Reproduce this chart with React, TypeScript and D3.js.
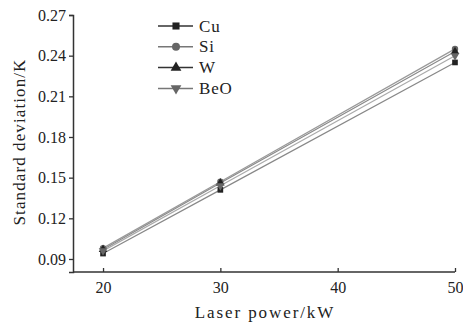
import React, { useRef, useEffect } from 'react';
import * as d3 from 'd3';

const powers = [20, 30, 50];
const seriesNames = ['Cu', 'Si', 'W', 'BeO'];
const cuValues = [0.094, 0.141, 0.235];
const siValues = [0.098, 0.147, 0.245];
const wValues = [0.097, 0.146, 0.243];
const beoValues = [0.096, 0.144, 0.240];
const xTicks = [20, 30, 40, 50];
const yTicks = [0.09, 0.12, 0.15, 0.18, 0.21, 0.24, 0.27];

const App = () => {
  const ref = useRef<SVGSVGElement>(null);

  useEffect(() => {
    const svg = d3.select(ref.current);
    svg.selectAll('*').remove();
    const font = '"Liberation Serif", "Times New Roman", serif';

    const x = d3.scaleLinear().domain([17.44, 50]).range([73, 455]);
    const y = d3.scaleLinear().domain([0.0804, 0.27]).range([272, 15]);

    const series = [
      { name: seriesNames[0], values: cuValues, color: '#222', line: '#888', symbol: d3.symbolSquare },
      { name: seriesNames[1], values: siValues, color: '#666', line: '#999', symbol: d3.symbolCircle },
      { name: seriesNames[2], values: wValues, color: '#222', line: '#8a8a8a', symbol: d3.symbolTriangle },
      { name: seriesNames[3], values: beoValues, color: '#666', line: '#aaa', symbol: d3.symbolTriangle },
    ];

    const line = d3.line<number>()
      .x((_, i) => x(powers[i]))
      .y(d => y(d));

    series.forEach(s => {
      svg.append('path')
        .attr('d', line(s.values))
        .attr('fill', 'none')
        .attr('stroke', s.line)
        .attr('stroke-width', 1.2);
    });

    series.forEach(s => {
      svg.append('g')
        .selectAll('path')
        .data(s.values)
        .join('path')
        .attr('d', d3.symbol().type(s.symbol).size(32)())
        .attr('transform', (d, i) => `translate(${x(powers[i])},${y(d)})${s.name === 'BeO' ? ' rotate(180)' : ''}`)
        .attr('fill', s.color);
    });

    const yAxis = svg.append('g')
      .attr('transform', 'translate(73,0)')
      .call(d3.axisLeft(y).tickValues(yTicks).tickFormat(d3.format('.2f')).tickSize(4));
    const xAxis = svg.append('g')
      .attr('transform', 'translate(0,272)')
      .call(d3.axisBottom(x).tickValues(xTicks).tickSize(-4).tickPadding(10));

    [yAxis, xAxis].forEach(a => {
      a.select('.domain').attr('stroke', '#333').attr('stroke-width', 1.5);
      a.selectAll('.tick line').attr('stroke', '#333').attr('stroke-width', 1.3);
      a.selectAll('.tick text')
        .attr('font-family', font)
        .attr('font-size', 16)
        .attr('fill', '#222');
    });
    xAxis.select('.domain').attr('d', 'M73,0H455');

    svg.append('text')
      .attr('x', 265)
      .attr('y', 318)
      .attr('text-anchor', 'middle')
      .attr('font-family', font)
      .attr('font-size', 17)
      .attr('letter-spacing', 1.9)
      .attr('fill', '#222')
      .text('Laser power/kW');

    svg.append('text')
      .attr('transform', 'translate(25,142) rotate(-90)')
      .attr('text-anchor', 'middle')
      .attr('font-family', font)
      .attr('font-size', 17)
      .attr('letter-spacing', 1.1)
      .attr('fill', '#222')
      .text('Standard deviation/K');

    const legend = svg.append('g');
    series.forEach((s, i) => {
      const ly = 26 + i * 20.8;
      legend.append('line')
        .attr('x1', 158).attr('x2', 193)
        .attr('y1', ly).attr('y2', ly)
        .attr('stroke', s.color === '#222' ? '#333' : '#777')
        .attr('stroke-width', 1.5);
      legend.append('path')
        .attr('d', d3.symbol().type(s.symbol).size(50)())
        .attr('transform', `translate(176,${ly})${s.name === 'BeO' ? ' rotate(180)' : ''}`)
        .attr('fill', s.color);
      legend.append('text')
        .attr('x', 199)
        .attr('y', ly + 5.5)
        .attr('font-family', font)
        .attr('font-size', 17)
        .attr('letter-spacing', 0.8)
        .attr('fill', '#222')
        .text(s.name);
    });
  }, []);

  return (
    <svg
      ref={ref}
      width={463}
      height={329}
      style={{ position: 'absolute', left: 0, top: 0, background: '#fff', overflow: 'visible' }}
    />
  );
};

export default App;
